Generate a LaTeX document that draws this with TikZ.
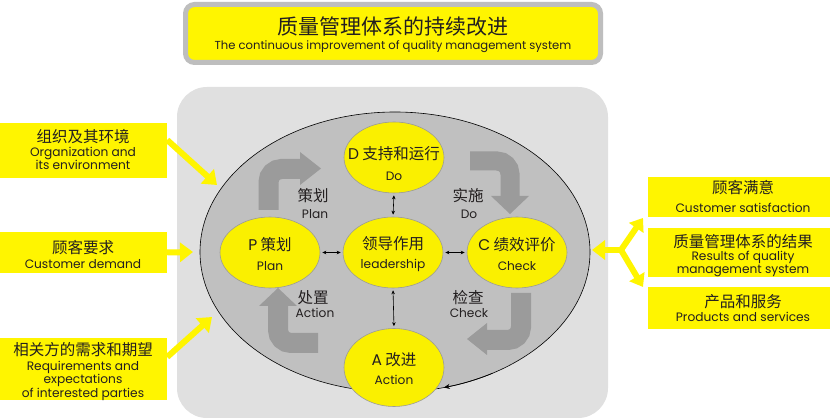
\documentclass[tikz,border=0pt]{standalone}
\usepackage{fontspec}
\setmainfont{Poppins}
\newfontfamily\lat{Poppins}
\newfontfamily\cjk{Noto Sans CJK SC}
\usetikzlibrary{arrows.meta,shapes.geometric}
\definecolor{bgg}{HTML}{E0E0E0}
\definecolor{ellg}{HTML}{C0C0C0}
\definecolor{agray}{HTML}{9B9B9B}
\definecolor{yel}{HTML}{FFF500}
\definecolor{cyel}{HTML}{FAF000}
\definecolor{cbord}{HTML}{9A9A9A}
\definecolor{tgray}{HTML}{BEBEBE}
\definecolor{txt}{HTML}{231F20}
\begin{document}
\begin{tikzpicture}[x=1pt,y=-1pt, text=txt,
  circ/.style={ellipse, fill=cyel, draw=cbord, line width=0.6pt, minimum width=100pt, minimum height=71pt, inner sep=0pt},
  cn/.style={font=\cjk\fontsize{15.5}{16}\selectfont, inner sep=0pt},
  cnbig/.style={font=\cjk\fontsize{21}{22}\selectfont, inner sep=0pt},
  en/.style={font=\lat\fontsize{12.2}{11}\selectfont, inner sep=0pt, align=center},
  ybox/.style={fill=yel, draw=none, inner sep=0pt},
  yarr/.style={draw=yel, line width=6pt, -{Triangle[length=13pt,width=19pt]}},
  garr/.style={draw=agray, line width=20pt, rounded corners=13pt},
  ghead/.style={fill=agray},
  dbl/.style={{Stealth[length=4pt,width=3.5pt]}-{Stealth[length=4pt,width=3.5pt]}, line width=0.6pt, draw=black, shorten <=2pt, shorten >=2pt}
]
\useasboundingbox (0,0) rectangle (830,419);
\fill[white] (0,0) rectangle (830,419);

% title
\node[draw=tgray, line width=5pt, fill=yel, rounded corners=9pt, minimum width=415pt, minimum height=58pt] (title) at (393,33.5) {};
\node[cnbig] (t1) at (393,27) {质量管理体系的持续改进};
\node[en, font=\lat\fontsize{11.6}{11}\selectfont] (t2) at (393,47) {The continuous improvement of quality management system};

% background
\fill[bgg, rounded corners=30pt] (177,87) rectangle (608,418);
\draw[fill=ellg, draw=black, line width=0.6pt] (395,252) ellipse [x radius=195, y radius=140];
\draw[-{Stealth[length=6pt,width=5pt]}, line width=0.6pt] (395,252) ++(60:195 and 140) arc[start angle=60, end angle=75.5, x radius=195, y radius=140];

% gray bent arrows
\draw[garr] (268.5,210) -- (268.5,169) -- (302,169);
\fill[ghead] (300,152) -- (321,168.5) -- (300,185) -- cycle;
\draw[garr, line width=19pt] (470,161) -- (510,161) -- (510,198);
\fill[ghead] (491,196) -- (510,214) -- (529,196) -- cycle;
\draw[garr] (521,293) -- (521,340) -- (485,340);
\fill[ghead] (487,323) -- (467,339) -- (487,355) -- cycle;
\draw[garr] (318,343) -- (278,343) -- (278,304);
\fill[ghead] (259,306) -- (278,288) -- (297,306) -- cycle;

% flow labels
\node[cn] (l1) at (313,196) {策划};
\node[en] (l1e) at (315,214) {Plan};
\node[cn] (l2) at (468,196) {实施};
\node[en] (l2e) at (469,214) {Do};
\node[cn] (l3) at (313,298) {处置};
\node[en] (l3e) at (315,313) {Action};
\node[cn] (l4) at (468,298) {检查};
\node[en] (l4e) at (469,313) {Check};

% circles
\node[circ] (D) at (394,157.5) {};
\node[circ] (L) at (393,252.5) {};
\node[circ] (P) at (270,252.5) {};
\node[circ] (C) at (517,252.5) {};
\node[circ, minimum height=78pt] (A) at (394,367.5) {};

\node[cn] (Dt) at (394,154) {{\lat D} 支持和运行};
\node[en] (De) at (394,176) {Do};
\node[cn] (Lt) at (393,244) {领导作用};
\node[en] (Le) at (393,265) {leadership};
\node[cn] (Pt) at (270,245) {{\lat P} 策划};
\node[en] (Pe) at (270,266) {Plan};
\node[cn] (Ct) at (517,245) {{\lat C} 绩效评价};
\node[en] (Ce) at (517,266) {Check};
\node[cn] (At) at (394,360) {{\lat A} 改进};
\node[en] (Ae) at (394,380) {Action};

\draw[dbl] (D.south) -- (L.north);
\draw[dbl] (L.south) -- (A.north);
\draw[dbl] (P.east) -- (L.west);
\draw[dbl] (L.east) -- (C.west);

% left boxes
\node[ybox, minimum width=167pt, minimum height=55pt] (lb1) at (83.5,150.5) {};
\node[cn] at (83,137) {组织及其环境};
\node[en] at (83,158.5) {Organization and\\its environment};
\node[ybox, minimum width=167pt, minimum height=41pt] (lb2) at (83.5,252.5) {};
\node[cn] at (83,248) {顾客要求};
\node[en] at (83,264) {Customer demand};
\node[ybox, minimum width=167pt, minimum height=62pt] (lb3) at (83.5,369) {};
\node[cn] at (83,350) {相关方的需求和期望};
\node[en] at (83,380.5) {Requirements and\\expectations\\of interested parties};

\coordinate (a1) at (217,185);
\coordinate (a2) at (193,252);
\coordinate (a3) at (212,317);
\draw[yarr] (lb1.east |- 0,140) -- (a1);
\draw[yarr] (lb2.east) -- (a2);
\draw[yarr] (lb3.east |- 0,357) -- (a3);

% right boxes
\node[ybox, minimum width=182pt, minimum height=40pt] (rb1) at (739,197) {};
\node[cn] at (743,188) {顾客满意};
\node[en] at (743,208) {Customer satisfaction};
\node[ybox, minimum width=182pt, minimum height=49pt] (rb2) at (739,252.5) {};
\node[cn] at (743,242) {质量管理体系的结果};
\node[en] at (743,264) {Results of quality\\management system};
\node[ybox, minimum width=182pt, minimum height=42pt] (rb3) at (739,308) {};
\node[cn] at (743,302) {产品和服务};
\node[en] at (743,317) {Products and services};

% fork
\coordinate (j) at (621,250);
\coordinate (f0) at (592,250);
\coordinate (f1) at (643,218);
\coordinate (f2) at (643,287);
\draw[yarr] (j) -- (f0);
\draw[yarr, -{Triangle[length=12pt,width=17pt]}] (j) -- (f1);
\draw[yarr, -{Triangle[length=12pt,width=17pt]}] (j) -- (f2);
\end{tikzpicture}
\end{document}
